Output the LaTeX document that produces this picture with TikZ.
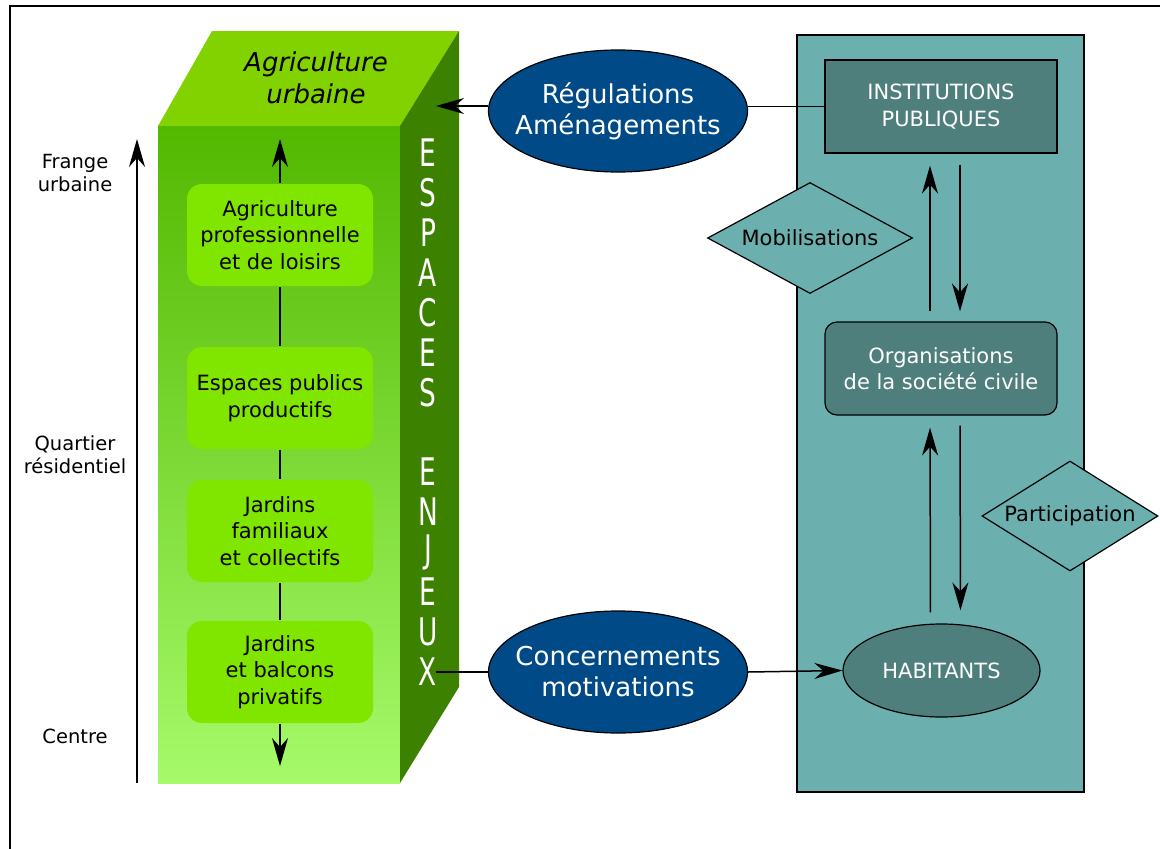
\documentclass[tikz,border=0pt]{standalone}
\usepackage{fontspec}
\setmainfont{DejaVu Sans}
\usetikzlibrary{arrows.meta,shapes.geometric}
\definecolor{face_top}{RGB}{130,210,0}
\definecolor{face_hi}{RGB}{82,184,0}
\definecolor{face_lo}{RGB}{166,250,106}
\definecolor{face_side}{RGB}{60,130,0}
\definecolor{box_green}{RGB}{128,230,0}
\definecolor{oval_blue}{RGB}{0,74,135}
\definecolor{panel_teal}{RGB}{107,176,175}
\definecolor{node_teal}{RGB}{79,127,125}

\begin{document}
\begin{tikzpicture}[x=1pt,y=-1pt,line width=1.5pt,
    >={Stealth[length=28pt,width=16pt,inset=9pt]}]
    \tikzstyle{gbox}=[fill=box_green, rounded corners=15pt, minimum width=186pt, minimum height=102pt, align=center, inner sep=0pt, font=\fontsize{21}{26.5}\selectfont]
    \tikzstyle{oval}=[ellipse, draw=black, line width=1.2pt, fill=oval_blue, text=white, minimum width=259pt, minimum height=122pt, inner xsep=-12pt, inner ysep=0pt, align=center, font=\fontsize{26}{31}\selectfont]
    \tikzstyle{tbox}=[draw=black, line width=1.2pt, fill=node_teal, text=white, minimum width=232pt, minimum height=93pt, inner sep=0pt, align=center, font=\fontsize{21}{26.5}\selectfont]
    \tikzstyle{losange}=[diamond, draw=black, line width=1.2pt, fill=panel_teal, inner sep=0pt, font=\fontsize{21}{24}\selectfont]
    \tikzstyle{side}=[align=center, font=\fontsize{19.5}{23}\selectfont]
    \tikzstyle{letter}=[text=white, inner sep=0pt, font=\fontsize{40}{40}\selectfont]

    \useasboundingbox (0,0) rectangle (1160,849);
    \draw[line width=1.2pt] (10,849) -- (10,6) -- (1160,6);

    % cube
    \fill[face_top] (158,126) -- (212,31) -- (459,31) -- (400,126) -- cycle;
    \fill[top color=face_hi, bottom color=face_lo] (158,126) rectangle (400,783);
    \fill[face_side] (400,126) -- (459,31) -- (459,687) -- (400,783) -- cycle;
    \node[font=\fontsize{26}{32}\selectfont\itshape, align=center] (titre) at (316,78) {Agriculture\\urbaine};

    \node[gbox] (pro) at (280,235) {Agriculture\\professionnelle\\et de loisirs};
    \node[gbox] (pub) at (280,398) {Espaces publics\\productifs};
    \node[gbox] (fam) at (280,531) {Jardins\\familiaux\\et collectifs};
    \node[gbox] (priv) at (280,672) {Jardins\\et balcons\\privatifs};
    \coordinate (colhaut) at (280,139);
    \coordinate (colbas) at (280,766);
    \draw[->] (pro) -- (colhaut);
    \draw (pro) -- (pub);
    \draw (pub) -- (fam);
    \draw (fam) -- (priv);
    \draw[->] (priv) -- (colbas);

    \foreach \ch [count=\i from 0] in {E,S,P,A,C,E,S}
      \node[letter] (esp\i) at (428,153+40*\i) {\scalebox{0.66}[0.95]{\ch}};
    \foreach \ch [count=\i from 0] in {E,N,J,E,U,X}
      \node[letter] (enj\i) at (428,472+40*\i) {\scalebox{0.66}[0.95]{\ch}};

    % axe
    \coordinate (axebas) at (137,783);
    \coordinate (axehaut) at (137,139);
    \draw[->] (axebas) -- (axehaut);
    \node[side] (frange) at (75,173) {Frange\\urbaine};
    \node[side] (quartier) at (75,455) {Quartier\\résidentiel};
    \node[side] (centre) at (75,736) {Centre};

    % acteurs
    \draw[line width=1.2pt, fill=panel_teal] (797,35) rectangle (1084,792);
    \node[tbox] (inst) at (941,106.5) {INSTITUTIONS\\PUBLIQUES};
    \node[tbox, rounded corners=12pt] (org) at (941,368.5) {Organisations\\de la société civile};
    \node[tbox, ellipse, minimum width=197pt] (hab) at (941.5,670.5) {HABITANTS};
    \node[losange, aspect=1.85, minimum width=205pt, minimum height=111pt] (mob) at (810,238) {Mobilisations};
    \node[losange, aspect=1.6, minimum width=176pt, minimum height=110pt] (part) at (1070,516) {Participation};

    \draw[->, shorten <=10pt, shorten >=12pt] ([xshift=-11pt]org.north) -- ([xshift=-11pt]inst.south);
    \draw[->, shorten <=11pt, shorten >=10pt] ([xshift=19pt]inst.south) -- ([xshift=19pt]org.north);
    \draw[->, shorten <=11pt, shorten >=12pt] ([xshift=-11pt]hab.north) -- ([xshift=-11pt]org.south);
    \draw[->, shorten <=10pt, shorten >=13pt] ([xshift=19pt]org.south) -- ([xshift=19pt]hab.north);

    % flux
    \node[oval] (regul) at (618,111) {Régulations\\Aménagements};
    \node[oval] (concern) at (618,672) {Concernements\\motivations};
    \coordinate (cubeR) at (436,106);
    \coordinate (cubeX) at (436,672);
    \draw (inst.west) -- (regul.east |- inst.west);
    \draw[->] (regul.west |- cubeR) -- (cubeR);
    \draw (cubeX) -- (concern.west);
    \draw[->] (concern.east) -- (hab.west);
\end{tikzpicture}
\end{document}
